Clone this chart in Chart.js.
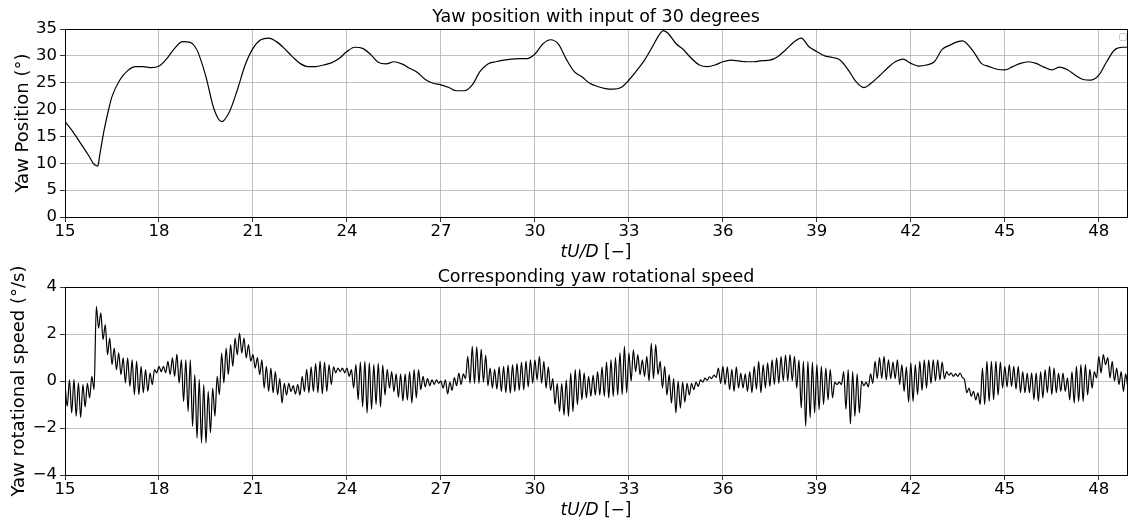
<!DOCTYPE html>
<html>
<head>
<meta charset="utf-8">
<script src="https://cdn.jsdelivr.net/npm/chart.js@4.4.0/dist/chart.umd.min.js"></script>
<style>
  html, body { margin: 0; padding: 0; background: #fff; }
  .panel { position: relative; width: 1128px; height: 261px; }
</style>
</head>
<body>
<div class="panel"><canvas id="yawChart"></canvas></div>
<div class="panel"><canvas id="speedChart"></canvas></div>
<script>
// time axis ticks (tU/D)
const xTicks = [15, 18, 21, 24, 27, 30, 33, 36, 39, 42, 45, 48];
const xMin = 15;
const xMax = 48.9;

// yaw position (deg)
const yawT = [
  15, 15.25, 15.5, 15.75, 15.9,
  16, 16.05, 16.1, 16.25, 16.4, 16.5, 16.75,
  17, 17.25, 17.5, 17.75,
  18, 18.25, 18.5, 18.75,
  19, 19.15, 19.25, 19.5, 19.75,
  20, 20.25, 20.5, 20.75,
  21, 21.25, 21.5, 21.75,
  22, 22.25, 22.5, 22.75,
  23, 23.25, 23.5, 23.75,
  24, 24.25, 24.5, 24.75,
  25, 25.25, 25.5, 25.75,
  26, 26.25, 26.5, 26.75,
  27, 27.25, 27.5, 27.75,
  28, 28.25, 28.5, 28.75,
  29, 29.25, 29.5, 29.75,
  30, 30.25, 30.5, 30.75,
  31, 31.25, 31.5, 31.75,
  32, 32.25, 32.5, 32.75,
  33, 33.25, 33.5, 33.75,
  34, 34.1, 34.25, 34.5, 34.75,
  35, 35.25, 35.5, 35.75,
  36, 36.25, 36.5, 36.75,
  37, 37.25, 37.5, 37.75,
  38, 38.25, 38.5, 38.75,
  39, 39.25, 39.5, 39.75,
  40, 40.25, 40.5, 40.75,
  41, 41.25, 41.5, 41.75,
  42, 42.25, 42.5, 42.75,
  43, 43.25, 43.5, 43.65, 43.75,
  44, 44.25, 44.5, 44.75,
  45, 45.25, 45.5, 45.75,
  46, 46.25, 46.5, 46.75,
  47, 47.25, 47.5, 47.75,
  48, 48.25, 48.5, 48.75, 48.9
];
const yawPos = [
  17.75, 15.9, 13.7, 11.5, 10.0,
  9.55, 9.5, 11.2, 16.2, 20.2, 22.4, 25.5,
  27.25, 28.0, 28.0, 27.8,
  28.1, 29.5, 31.4, 32.65,
  32.5, 31.7, 30.6, 26.1, 20.2,
  17.75, 19.6, 23.65, 28.3,
  31.4, 33.0, 33.3, 32.65,
  31.4, 29.9, 28.6, 28.0,
  28.0, 28.3, 28.7, 29.5,
  30.8, 31.6, 31.4, 30.3,
  28.8, 28.5, 28.9, 28.5,
  27.7, 26.9, 25.6, 24.9,
  24.6, 24.1, 23.5, 23.5,
  24.6, 27.1, 28.5, 28.9,
  29.2, 29.4, 29.5, 29.5,
  30.35, 32.2, 33.0, 32.2,
  29.4, 27.1, 26.1, 24.9,
  24.3, 23.9, 23.8, 24.1,
  25.5, 27.25, 29.2, 31.7,
  34.2, 34.7, 34.2, 32.3, 31.1,
  29.5, 28.3, 28.0, 28.3,
  28.9, 29.2, 29.05, 28.9,
  28.9, 29.1, 29.2, 29.85,
  31.1, 32.5, 33.3, 31.7,
  30.8, 30.0, 29.7, 29.2,
  27.4, 25.2, 24.1, 25.0,
  26.3, 27.7, 28.9, 29.4,
  28.6, 28.1, 28.3, 28.9,
  31.2, 32.0, 32.65, 32.8, 32.5,
  30.8, 28.6, 28.0, 27.5,
  27.4, 28.0, 28.6, 28.9,
  28.6, 27.9, 27.4, 27.9,
  27.4, 26.4, 25.6, 25.5,
  26.4, 28.9, 31.1, 31.6, 31.6
];
const yawTicks = [0, 5, 10, 15, 20, 25, 30, 35];

// yaw rate (deg/s): successive peak / trough values, 14 per unit of tU/D
const speedStart = 15;
const extremaPerUnit = 14;
const speedExtrema = [
  -0.15, -1.08, 0.05, -1.36, 0.06, -1.5, -0.08, -1.55, -0.15, -1.1, -0.1, -0.72, 0.2, -0.37, // 15
  3.18, 2.25, 2.9, 1.76, 2.4, 1.12, 1.83, 0.7, 1.4, 0.48, 1.2, 0.27, 0.98, -0.08,            // 16
  0.98, -0.23, 0.9, -0.58, 0.84, -0.58, 0.62, -0.5, 0.48, -0.44, 0.34, -0.15, 0.48, 0.34,    // 17
  0.62, 0.4, 0.62, 0.35, 0.84, 0.27, 0.98, 0.2, 1.15, -0.08, 0.9, -0.87, 0.9, -1.3,          // 18
  0.9, -1.93, 0.27, -2.43, 0.06, -2.64, -0.15, -2.64, -0.44, -2.2, -0.3, -1.5, 0.2, -0.58,   // 19
  1.19, -0.08, 1.4, 0.27, 1.55, 0.62, 1.83, 1.12, 2.04, 1.19, 1.83, 0.98, 1.55, 0.84,        // 20
  1.12, 0.55, 1.0, 0.27, 0.9, -0.3, 0.62, -0.44, 0.55, -0.5, 0.4, -0.58, 0.1, -0.94,         // 21
  -0.1, -0.6, -0.1, -0.45, -0.2, -0.55, -0.15, -0.6, 0.2, -0.45, 0.5, -0.5, 0.6, -0.45,      // 22
  0.75, -0.5, 0.85, -0.55, 0.8, -0.45, 0.7, -0.15, 0.6, 0.35, 0.55, 0.4, 0.55, 0.35,         // 23
  0.55, 0.2, 0.48, -0.3, 0.7, -0.8, 0.8, -1.1, 0.84, -1.36, 0.77, -1.2, 0.7, -1.0,           // 24
  0.75, -1.1, 0.68, -0.6, 0.5, -0.3, 0.4, -0.45, 0.3, -0.7, 0.3, -0.85, 0.3, -0.8,           // 25
  0.4, -0.94, 0.48, -0.72, 0.48, -0.37, 0.2, -0.25, 0.1, -0.2, 0.05, -0.15, 0.05, -0.1,      // 26
  0.0, -0.3, 0.05, -0.55, -0.05, -0.4, 0.15, -0.2, 0.34, -0.15, 0.3, 0.1, 1.05, -0.1,        // 27
  1.47, -0.1, 1.45, -0.1, 1.35, -0.05, 1.1, -0.2, 0.55, -0.3, 0.5, -0.35, 0.6, -0.45,        // 28
  0.62, -0.5, 0.68, -0.52, 0.7, -0.45, 0.75, -0.4, 0.8, -0.38, 0.85, -0.25, 0.9, -0.1,       // 29
  0.9, 0.05, 1.05, -0.1, 0.84, -0.3, 0.6, -0.4, 0.1, -1.0, -0.1, -1.3, -0.1, -1.45,          // 30
  0.04, -1.5, 0.34, -1.3, 0.48, -1.0, 0.5, -0.8, 0.35, -0.72, 0.2, -0.65, 0.25, -0.6,        // 31
  0.4, -0.6, 0.6, -0.65, 0.8, -0.72, 0.9, -0.65, 1.0, -0.6, 1.2, -0.58, 1.47, -0.5,          // 32
  1.2, 0.0, 1.33, 0.4, 1.12, 0.27, 0.9, 0.2, 1.05, 0.0, 1.6, 0.1, 1.55, 0.27,                // 33
  0.84, -0.3, 0.62, -0.6, 0.27, -0.94, 0.1, -1.36, 0.0, -1.15, -0.05, -0.9, -0.1, -0.6,      // 34
  -0.1, -0.37, -0.05, -0.23, 0.05, -0.05, 0.12, 0.03, 0.18, 0.1, 0.25, 0.15, 0.55, -0.1,     // 35
  0.62, -0.15, 0.6, -0.37, 0.5, -0.44, 0.6, -0.3, 0.34, -0.3, 0.3, -0.44, 0.4, -0.5,         // 36
  0.62, -0.35, 0.84, -0.5, 0.7, -0.3, 0.77, -0.23, 0.9, -0.15, 0.98, -0.1, 1.05, 0.0,        // 37
  1.1, 0.0, 1.12, 0.0, 1.05, -0.3, 0.9, -1.15, 0.84, -1.93, 0.84, -1.57, 0.8, -1.36,         // 38
  0.7, -1.22, 0.62, -1.0, 0.55, -0.8, 0.5, -0.72, -0.05, -0.15, -0.05, -0.15, 0.4, -1.2,     // 39
  0.48, -1.83, 0.4, -1.5, 0.3, -1.36, 0.0, -0.2, -0.05, -0.25, 0.3, -0.1, 0.84, 0.1,         // 40
  1.0, 0.1, 1.05, 0.05, 0.9, 0.1, 0.8, 0.1, 0.9, -0.15, 0.7, -0.45, 0.6, -0.9,               // 41
  0.77, -0.87, 0.7, -0.58, 0.84, -0.4, 0.9, -0.3, 0.9, -0.1, 0.9, 0.0, 0.9, 0.05,            // 42
  0.8, 0.1, 0.4, 0.25, 0.34, 0.2, 0.3, 0.2, 0.34, 0.15, 0.05, -0.5, -0.3, -0.65,             // 43
  -0.44, -0.8, -0.5, -1.0, 0.55, -1.0, 0.84, -0.87, 0.84, -0.8, 0.84, -0.6, 0.8, -0.3,       // 44
  0.62, -0.25, 0.7, -0.23, 0.62, -0.35, 0.62, -0.5, 0.4, -0.5, 0.34, -0.5, 0.35, -0.8,       // 45
  0.35, -0.87, 0.4, -0.72, 0.48, -0.5, 0.62, -0.58, 0.55, -0.5, 0.34, -0.44, 0.34, -0.44,    // 46
  0.13, -0.8, 0.4, -0.94, 0.62, -0.87, 0.7, -0.87, 0.7, -0.6, 0.5, -0.3, 0.4, 0.13,          // 47
  1.05, 0.34, 1.12, 0.7, 1.0, 0.13, 0.84, 0.0, 0.55, -0.15, 0.4, -0.44, 0.3, -0.3            // 48
];
const speedTicks = [-4, -2, 0, 2, 4];

const FONT = '"DejaVu Sans", "Liberation Sans", sans-serif';
const FS = 16.5;      // tick labels
const FS_TITLE = 17.5;
const FS_YLABEL = 18;
const FS_XLABEL = 17;
Chart.defaults.color = '#000';
Chart.defaults.font.family = FONT;
Chart.defaults.font.size = FS;

const yawPoints = yawT.map((t, i) => ({ x: t, y: yawPos[i] }));
const speedPoints = speedExtrema.map((v, i) => ({ x: speedStart + i / extremaPerUnit, y: v }));

// box round the axes, panel title and the mixed italic x label
const framePlugin = {
  id: 'frame',
  afterDatasetsDraw(chart, args, opts) {
    const { ctx, chartArea: a } = chart;
    ctx.save();
    ctx.strokeStyle = '#000';
    ctx.lineWidth = 1;
    ctx.strokeRect(a.left + 0.5, a.top + 0.5, a.width, a.height);
    if (opts.legendBox) {
      ctx.strokeStyle = '#cccccc';
      ctx.beginPath();
      ctx.roundRect(a.right - 7.5, a.top + 4.5, 7, 7, 1.5);
      ctx.stroke();
    }
    const cx = (a.left + a.right) / 2;
    ctx.fillStyle = '#000';
    ctx.textBaseline = 'middle';
    ctx.textAlign = 'center';
    ctx.font = FS_TITLE + 'px ' + FONT;
    ctx.fillText(opts.title, cx, a.top - opts.titleGap);

    ctx.textAlign = 'left';
    ctx.font = 'italic ' + FS_XLABEL + 'px ' + FONT;
    const w1 = ctx.measureText('tU/D').width;
    ctx.font = FS_XLABEL + 'px ' + FONT;
    const w2 = ctx.measureText(' [\u2212]').width;
    const x0 = cx - (w1 + w2) / 2;
    const y0 = a.bottom + 36;
    ctx.font = 'italic ' + FS_XLABEL + 'px ' + FONT;
    ctx.fillText('tU/D', x0, y0);
    ctx.font = FS_XLABEL + 'px ' + FONT;
    ctx.fillText(' [\u2212]', x0 + w1, y0);
    ctx.restore();
  }
};

function makeChart(id, points, yTicks, yLabel, opts) {
  return new Chart(document.getElementById(id), {
    type: 'line',
    data: {
      datasets: [{
        data: points,
        borderColor: '#000',
        borderWidth: 1.2,
        pointRadius: 0,
        cubicInterpolationMode: 'monotone',
        fill: false
      }]
    },
    options: {
      responsive: true,
      maintainAspectRatio: false,
      animation: false,
      layout: { padding: { top: opts.top, right: 1, left: 0, bottom: 0 } },
      plugins: {
        legend: { display: false },
        tooltip: { enabled: false },
        frame: { title: opts.title, titleGap: opts.titleGap, legendBox: opts.legendBox }
      },
      scales: {
        x: {
          type: 'linear',
          min: xMin,
          max: xMax,
          afterBuildTicks: s => { s.ticks = xTicks.map(v => ({ value: v })); },
          afterFit: s => { s.height = opts.xHeight; },
          ticks: { padding: 0, maxRotation: 0, color: '#000' },
          grid: { color: '#b0b0b0', lineWidth: 0.8, tickColor: '#000', tickLength: 5, tickWidth: 0.8 },
          border: { display: false }
        },
        y: {
          min: yTicks[0],
          max: yTicks[yTicks.length - 1],
          afterBuildTicks: s => { s.ticks = yTicks.map(v => ({ value: v })); },
          afterFit: s => { s.width = 65; },
          ticks: {
            padding: 3,
            color: '#000',
            callback: v => String(v).replace('-', '\u2212')
          },
          grid: { color: '#b0b0b0', lineWidth: 0.8, tickColor: '#000', tickLength: 5, tickWidth: 0.8 },
          border: { display: false },
          title: {
            display: true,
            text: yLabel,
            color: '#000',
            font: { size: FS_YLABEL },
            padding: { top: opts.yTitlePad, bottom: 0 }
          }
        }
      }
    },
    plugins: [framePlugin]
  });
}

makeChart('yawChart', yawPoints, yawTicks, 'Yaw Position (\u00b0)',
  { top: 29, xHeight: 44, title: 'Yaw position with input of 30 degrees', titleGap: 12, legendBox: true, yTitlePad: 13 });
makeChart('speedChart', speedPoints, speedTicks, 'Yaw rotational speed (\u00b0/s)',
  { top: 26, xHeight: 47, title: 'Corresponding yaw rotational speed', titleGap: 10, legendBox: false, yTitlePad: 9 });
</script>
</body>
</html>
